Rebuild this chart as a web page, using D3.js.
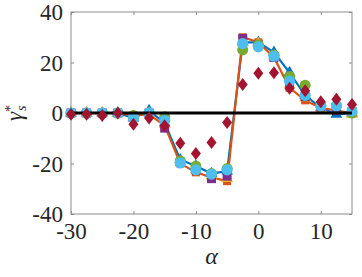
<!DOCTYPE html>
<html>
<head>
<meta charset="utf-8">
<script src="https://cdn.jsdelivr.net/npm/d3@7"></script>
<style>
  body { margin: 0; background: #fff; }
</style>
</head>
<body>
<svg width="362" height="277"></svg>
<script>
// alpha values shared by all series
var alphas = [-30, -27.5, -25, -22.5, -20, -17.5, -15, -12.5, -10, -7.5, -5, -2.5, 0, 2.5, 5, 7.5, 10, 12.5, 15];

var blueVals   = [0, 0, 0, 0, -2, 1, -4, -18.5, -21, -24, -23, 28, 28, 24, 16, 7, 2, -0.5, 0];
var orangeVals = [0, 0, 0, 0, -1, -0.5, -5, -20, -23.5, -25.5, -27, 30, 28, 22, 10, 5, 2, 1, 0];
var yellowVals = [0, 0, 0, 0, -1.5, 0, -4.5, -19.5, -22.5, -25, -26, 28, 27.5, 22.5, 11, 6, 2, 1, -0.5];
var purpleVals = [0, 0, 0, 0, -1.5, 0, -6, -19.5, -22.5, -26, -25, 29.5, 27, 22, 12, 6.5, 2.5, 1, 0.5];
var greenVals  = [0, 0, 0, 0, -1, 0, -1.5, -19, -21, -24, -22, 25, 27, 23, 14.5, 11, 3, 3, 0];
var cyanVals   = [0, 0, 0, 0, -2, 0, -3, -19.8, -22.5, -24.2, -22.5, 27.5, 26.2, 22.5, 12.6, 7, 2.8, 2.8, 0.8];
var redVals    = [-0.5, -0.5, -1, 0, -4.5, -2, -5, -12, -16, -11.7, -3.8, 11.3, 15.7, 15.9, 9.8, 8.8, 4.5, 5.4, 3.4];

var xTicks = [-30, -20, -10, 0, 10];
var yTicks = [-40, -20, 0, 20, 40];

var serif = "'Liberation Serif', serif";

var svg = d3.select("svg");
var margin = {left: 71, right: 10, top: 12, bottom: 63};
var W = 362, H = 277;

var x = d3.scaleLinear().domain([-30, 15]).range([margin.left, W - margin.right]);
var y = d3.scaleLinear().domain([-40, 40]).range([H - margin.bottom, margin.top]);

var axisColor = "#8c8c8c";

// box
svg.append("rect")
  .attr("x", x(-30)).attr("y", y(40))
  .attr("width", x(15) - x(-30)).attr("height", y(-40) - y(40))
  .attr("fill", "none").attr("stroke", axisColor).attr("stroke-width", 1);

// ticks (inside)
var xAx = svg.append("g").attr("transform", "translate(0," + y(-40) + ")")
  .call(d3.axisBottom(x).tickValues(xTicks).tickSizeInner(-3).tickSizeOuter(0).tickPadding(5).tickFormat(d3.format("d")));
var xAxTop = svg.append("g").attr("transform", "translate(0," + y(40) + ")")
  .call(d3.axisTop(x).tickValues(xTicks).tickSizeInner(-3).tickSizeOuter(0).tickFormat(""));
var yAx = svg.append("g").attr("transform", "translate(" + x(-30) + ",0)")
  .call(d3.axisLeft(y).tickValues(yTicks).tickSizeInner(-3).tickSizeOuter(0).tickPadding(8).tickFormat(d3.format("d")));
var yAxR = svg.append("g").attr("transform", "translate(" + x(15) + ",0)")
  .call(d3.axisRight(y).tickValues(yTicks).tickSizeInner(-3).tickSizeOuter(0).tickFormat(""));

[xAx, xAxTop, yAx, yAxR].forEach(function (g) {
  g.attr("font-family", null);
  g.select(".domain").remove();
  g.selectAll(".tick line").attr("stroke", axisColor);
  g.selectAll("text").attr("fill", "#262626")
    .style("font-family", serif).style("font-size", "23px")
    .text(function (d) { return d3.select(this).text().replace("\u2212", "-"); });
});
xAx.selectAll("text").attr("dy", "0.85em");
yAx.selectAll("text").attr("dy", "0.34em");

var line = d3.line().x(function (d, i) { return x(alphas[i]); }).y(function (d) { return y(d); });

// series lines
svg.append("path").datum(blueVals).attr("d", line)
  .attr("fill", "none").attr("stroke", "#0072BD").attr("stroke-width", 2.2);
svg.append("path").datum(orangeVals).attr("d", line)
  .attr("fill", "none").attr("stroke", "#D95319").attr("stroke-width", 2.2);

function triangles(vals, color, s) {
  svg.append("g").selectAll("path").data(vals).enter().append("path")
    .attr("d", d3.symbol().type(d3.symbolTriangle).size(s))
    .attr("transform", function (d, i) { return "translate(" + x(alphas[i]) + "," + y(d) + ")"; })
    .attr("fill", color);
}
function squares(vals, color, s) {
  svg.append("g").selectAll("rect").data(vals).enter().append("rect")
    .attr("x", function (d, i) { return x(alphas[i]) - s / 2; })
    .attr("y", function (d) { return y(d) - s / 2; })
    .attr("width", s).attr("height", s).attr("fill", color);
}
function circles(vals, color, r) {
  svg.append("g").selectAll("circle").data(vals).enter().append("circle")
    .attr("cx", function (d, i) { return x(alphas[i]); })
    .attr("cy", function (d) { return y(d); })
    .attr("r", r).attr("fill", color);
}
function diamonds(vals, color) {
  svg.append("g").selectAll("path").data(vals).enter().append("path")
    .attr("d", "M0,-6.5L5,0L0,6.5L-5,0Z")
    .attr("transform", function (d, i) { return "translate(" + x(alphas[i]) + "," + y(d) + ")"; })
    .attr("fill", color);
}

triangles(blueVals, "#0072BD", 60);
squares(orangeVals, "#D95319", 8);
triangles(yellowVals, "#EDB120", 60);
squares(purpleVals, "#7E2F8E", 9);
circles(greenVals, "#77AC30", 5.5);
circles(cyanVals, "#4DBEEE", 5.6);

// zero reference line
svg.append("line")
  .attr("x1", x(-30)).attr("x2", x(15)).attr("y1", y(0)).attr("y2", y(0))
  .attr("stroke", "#000").attr("stroke-width", 3);

diamonds(redVals, "#A2142F");

// axis labels
svg.append("text")
  .attr("x", x(-7.5)).attr("y", 264)
  .attr("text-anchor", "middle")
  .style("font-family", serif)
  .style("font-size", "24px").style("font-style", "italic")
  .attr("fill", "#262626")
  .text("\u03b1");

var yl = svg.append("text")
  .attr("transform", "translate(22," + y(0) + ") rotate(-90)")
  .attr("text-anchor", "middle")
  .style("font-family", serif)
  .style("font-size", "23px").style("font-style", "italic")
  .attr("fill", "#262626");
yl.append("tspan").text("\u03b3");
yl.append("tspan").attr("dy", -7).style("font-size", "14px").style("font-style", "normal").text("*");
yl.append("tspan").attr("dx", -6).attr("dy", 11).style("font-size", "14px").text("s");
</script>
</body>
</html>
